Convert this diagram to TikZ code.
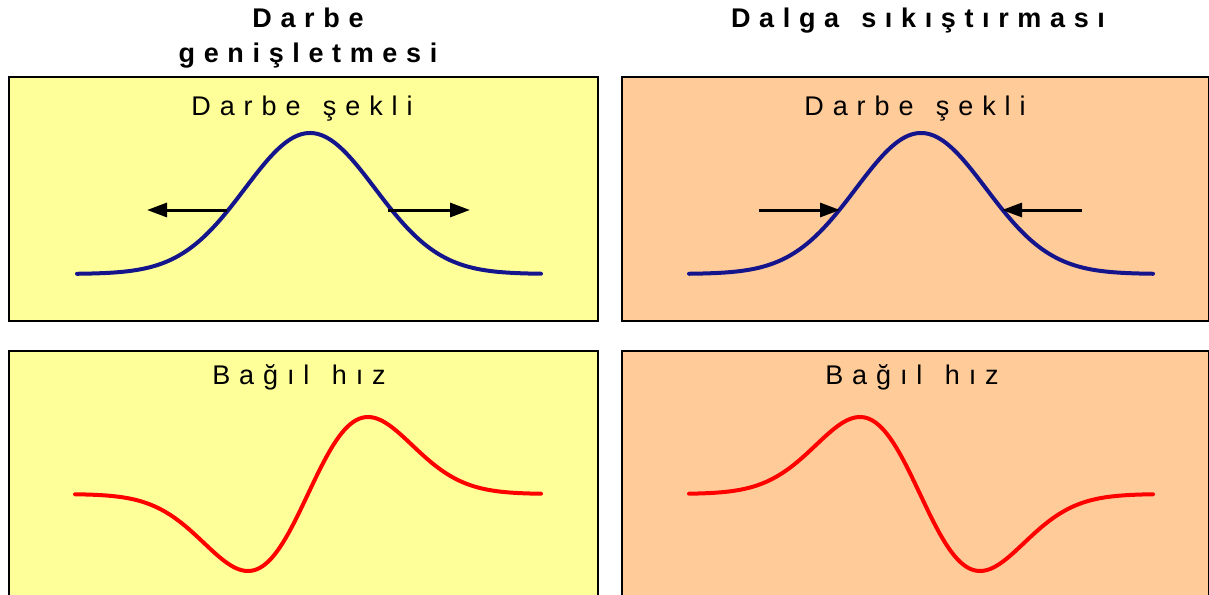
\documentclass[tikz,border=0pt]{standalone}
\usepackage{fontspec}
\setmainfont{Liberation Sans}
\newfontfamily\titlefont[LetterSpace=32]{Liberation Sans}
\newfontfamily\lblfont[LetterSpace=33]{Liberation Sans}
\usetikzlibrary{arrows.meta}
\definecolor{yellowbg}{RGB}{255,255,153}
\definecolor{orangebg}{RGB}{255,204,153}
\definecolor{pulseblue}{RGB}{20,20,140}
\definecolor{velred}{RGB}{255,0,0}
\begin{document}
\begin{tikzpicture}[x=1pt,y=-1pt,
  panel/.style={draw=black,line width=1.5pt,inner sep=0,anchor=north west},
  ttl/.style={font=\titlefont\bfseries\fontsize{27}{35}\selectfont,align=center,inner sep=0},
  lbl/.style={font=\lblfont\fontsize{27}{30}\selectfont,inner sep=0},
  pulse/.style={draw=pulseblue,line width=4pt,line join=round,line cap=round},
  vel/.style={draw=velred,line width=4pt,line join=round,line cap=round},
  arr/.style={draw=black,line width=3pt,-{Triangle[length=20pt,width=14pt]}}]
\useasboundingbox (0,0) rectangle (1209,594);
\clip (0,0) rectangle (1209,594);
\fill[white] (0,0) rectangle (1209,594);
% panels
\node[panel,fill=yellowbg,minimum width=589pt,minimum height=244pt] (pA) at (8,76) {};
\node[panel,fill=orangebg,minimum width=587pt,minimum height=244pt] (pB) at (621,76) {};
\node[panel,fill=yellowbg,minimum width=589pt,minimum height=280pt] (pC) at (8,350) {};
\node[panel,fill=orangebg,minimum width=587pt,minimum height=280pt] (pD) at (621,350) {};
% titles
\node[ttl] (t1) at (308,38) {Darbe\\genişletmesi};
\node[ttl] (t2) at (918,21) {Dalga\hspace{6pt} sıkıştırması};
% labels
\node[lbl] (l1) at (302,109) {Darbe\hspace{6pt} şekli};
\node[lbl] (l2) at (915,109) {Darbe\hspace{6pt} şekli};
\node[lbl] (l3) at (299,377) {Bağıl\hspace{6pt} hız};
\node[lbl] (l4) at (912,377) {Bağıl\hspace{6pt} hız};
% pulse shapes
\draw[pulse] plot[domain=77:541,samples=160] (\x,{274-141*exp(-0.5*((\x-310)/65)^2)});
\draw[pulse] plot[domain=689:1153,samples=160] (\x,{274-141*exp(-0.5*((\x-921)/65)^2)});
% velocity curves
\draw[vel] plot[domain=75:541,samples=160] (\x,{494-77*((\x-308)/60)*exp(0.5-0.5*((\x-308)/60)^2)});
\draw[vel] plot[domain=689:1153,samples=160] (\x,{494+77*((\x-920)/60)*exp(0.5-0.5*((\x-920)/60)^2)});
% arrows
\coordinate (a1s) at (227,210); \coordinate (a1e) at (147,210);
\coordinate (a2s) at (388,210); \coordinate (a2e) at (470,210);
\coordinate (a3s) at (759,210); \coordinate (a3e) at (840,210);
\coordinate (a4s) at (1082,210); \coordinate (a4e) at (1002,210);
\draw[arr] (a1s) -- (a1e);
\draw[arr] (a2s) -- (a2e);
\draw[arr] (a3s) -- (a3e);
\draw[arr] (a4s) -- (a4e);
\end{tikzpicture}
\end{document}
